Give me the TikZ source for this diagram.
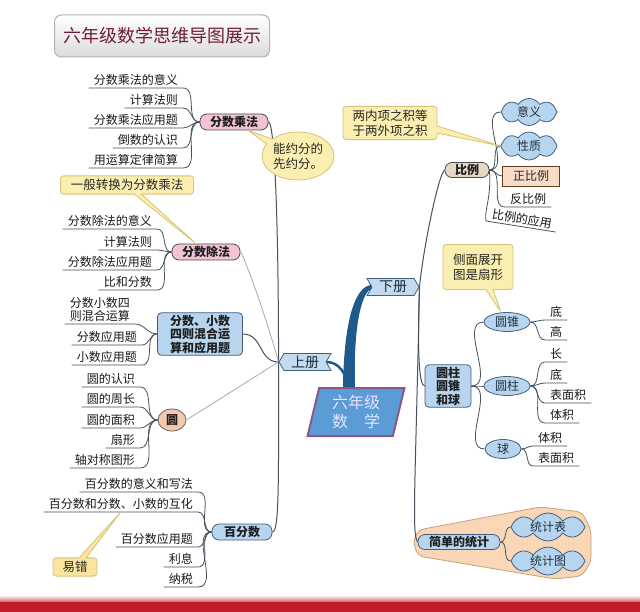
\documentclass[tikz,border=0pt]{standalone}
\usepackage{fontspec}
\setmainfont{Noto Sans CJK SC}
\usetikzlibrary{positioning,shapes.geometric,shapes.symbols,shapes.callouts}

\definecolor{lineg}{HTML}{46515C}
\definecolor{lightg}{HTML}{A3ACB4}
\definecolor{pinkf}{HTML}{F3C3D5}
\definecolor{bluef}{HTML}{B7D5EF}
\definecolor{navy}{HTML}{44607C}
\definecolor{peachf}{HTML}{F5C8AE}
\definecolor{beigef}{HTML}{E6D8C6}
\definecolor{notef}{HTML}{FAEFB0}
\definecolor{noted}{HTML}{D6C27A}
\definecolor{stemc}{HTML}{1E5A8C}
\definecolor{barred}{HTML}{C41B2B}
\definecolor{titlec}{HTML}{6E1F33}
\definecolor{ctrf}{HTML}{5B9BD6}
\definecolor{ctrd}{HTML}{8A5A86}
\definecolor{wrapf}{HTML}{F8D6B6}
\definecolor{wrapd}{HTML}{C9A27E}
\definecolor{zhengf}{HTML}{F9DCC8}

\begin{document}
\begin{tikzpicture}[x=1pt,y=1pt,
  lf/.style={font=\fontsize{12}{13.5}\selectfont, text=black!90, inner xsep=5pt, inner ysep=2pt},
  lfl/.style={lf,anchor=south east},
  lfr/.style={lf,anchor=south west},
  twig/.style={draw=lineg, line width=0.8pt},
  limb/.style={draw=lineg, line width=1pt},
  faint/.style={draw=lightg, line width=0.8pt},
  mm/.style={font=\fontsize{12}{13.5}\selectfont\bfseries, text=black!88},
  pill/.style={mm, rounded corners=7pt, draw=black!70, line width=0.8pt, inner sep=1pt, minimum height=16pt},
  pinkpill/.style={pill, fill=pinkf},
  bluepill/.style={pill, fill=bluef, draw=navy},
  boxnode/.style={mm, fill=bluef, draw=navy, rounded corners=4pt, align=center, line width=0.8pt, inner sep=2pt},
  oval/.style={ellipse, fill=bluef, draw=navy, line width=0.8pt, font=\fontsize{12}{14}\selectfont, text=navy!50!black, inner sep=0pt, minimum height=19pt},
  puff/.style={cloud, cloud puffs=8, cloud puff arc=115, cloud ignores aspect, fill=bluef, draw=navy, line width=0.8pt, font=\fontsize{12}{14}\selectfont, text=navy!50!black, inner sep=0pt},
  flag/.style={signal, signal pointer angle=120, fill=bluef!85!white, draw=navy, line width=0.8pt, font=\fontsize{14}{16}\selectfont, text=navy!45!black, minimum width=52pt, minimum height=17pt, inner sep=1pt},
  note/.style={rectangle callout, fill=notef, draw=noted, line width=0.8pt, rounded corners=3pt, font=\fontsize{12.5}{15}\selectfont, align=center, text=black!85},
  titlebox/.style={draw=black!30, line width=1pt, rounded corners=7pt, top color=white, bottom color=red!4!black!14, minimum width=215pt, minimum height=42pt, font=\fontsize{18}{21}\selectfont, text=titlec}]
\useasboundingbox (0,0) rectangle (640,-612);
\fill[white] (0,0) rectangle (640,-612);
% title and bottom band
\node (ttl) [titlebox] at (162,-36) {六年级数学思维导图展示};
\shade[top color=white, bottom color=barred!70] (0,-595) rectangle (640,-602);
\fill[barred] (0,-602) rectangle (640,-612);

% centre and the two books
\node (ctr) [trapezium, trapezium left angle=78, trapezium right angle=102, trapezium stretches=true, minimum width=97pt, minimum height=48pt, fill=ctrf, draw=ctrd, line width=2pt, text=blue!10, font=\fontsize{16}{19}\selectfont, align=center] at (356,-412) {六年级\\数\quad 学};
\node (xia) [flag, signal to=east, signal from=west] at (393,-287) {下册};
\node (shang) [flag, signal to=west, signal from=east] at (305,-362) {上册};
\fill[stemc] ([xshift=-13]ctr.north) .. controls +(1,68) and +(-16,-1) .. ([yshift=2]xia.west) -- ([yshift=-2]xia.west) .. controls +(-8,-2) and +(-2,68) .. ([xshift=-1]ctr.north) -- cycle;
\draw[stemc, line width=2.5pt] (shang.east) to[out=0,in=90] ([xshift=-9]ctr.north);

% 上册
\node (mul) [pinkpill, minimum width=68pt] at (234,-122) {分数乘法};
\node (div) [pinkpill, minimum width=68pt] at (206,-252) {分数除法};
\node (mix) [boxnode, minimum width=85pt, minimum height=42pt] at (200,-334) {分数、小数\\四则混合运\\算和应用题};
\node (yuan) [mm, ellipse, fill=peachf, draw=black!60, line width=0.8pt, inner sep=0pt, minimum width=28pt, minimum height=22pt] at (172,-420) {圆};
\node (pct) [bluepill, minimum width=60pt] at (242,-532) {百分数};
\draw[limb] (mul.east) .. controls +(7,0) and +(0,120) .. (shang.west) .. controls +(0,-120) and +(7,0) .. (pct.east);
\draw[faint] (shang.west) .. controls +(-8,30) and +(6,-8) .. (div.east);
\draw[limb] (shang.west) .. controls +(-20,0) and +(20,0) .. (mix.east);
\draw[faint] (shang.west) -- (yuan.east);

\node (m1) [lfl] at (183,-88) {分数乘法的意义};
\node (m2) [lfl] at (183,-108) {计算法则};
\node (m3) [lfl] at (183,-128) {分数乘法应用题};
\node (m4) [lfl] at (183,-148) {倒数的认识};
\node (m5) [lfl] at (183,-168) {用运算定律简算};
\draw[twig] (mul.west) to[out=180,in=0] (m1.south east) -- (m1.south west);
\draw[twig] (mul.west) to[out=180,in=0] (m2.south east) -- (m2.south west);
\draw[twig] (mul.west) to[out=180,in=0] (m3.south east) -- (m3.south west);
\draw[twig] (mul.west) to[out=180,in=0] (m4.south east) -- (m4.south west);
\draw[twig] (mul.west) to[out=180,in=0] (m5.south east) -- (m5.south west);

\node (d1) [lfl] at (157,-229) {分数除法的意义};
\node (d2) [lfl] at (157,-250) {计算法则};
\node (d3) [lfl] at (157,-270) {分数除法应用题};
\node (d4) [lfl] at (157,-290) {比和分数};
\draw[twig] (div.west) to[out=180,in=0] (d1.south east) -- (d1.south west);
\draw[twig] (div.west) to[out=180,in=0] (d2.south east) -- (d2.south west);
\draw[twig] (div.west) to[out=180,in=0] (d3.south east) -- (d3.south west);
\draw[twig] (div.west) to[out=180,in=0] (d4.south east) -- (d4.south west);

\node (x1) [lfl, align=center] at (135,-324) {分数小数四\\则混合运算};
\node (x2) [lfl] at (142,-345) {分数应用题};
\node (x3) [lfl] at (142,-365) {小数应用题};
\draw[twig] (mix.west) to[out=180,in=0] (x1.south east) -- (x1.south west);
\draw[twig] (mix.west) to[out=180,in=0] (x2.south east) -- (x2.south west);
\draw[twig] (mix.west) to[out=180,in=0] (x3.south east) -- (x3.south west);

\node (y1) [lfl] at (140,-387) {圆的认识};
\node (y2) [lfl] at (140,-407) {圆的周长};
\node (y3) [lfl] at (140,-428) {圆的面积};
\node (y4) [lfl] at (140,-448) {扇形};
\node (y5) [lfl] at (140,-468) {轴对称图形};
\draw[twig] (yuan.west) to[out=180,in=0] (y1.south east) -- (y1.south west);
\draw[twig] (yuan.west) to[out=180,in=0] (y2.south east) -- (y2.south west);
\draw[twig] (yuan.west) to[out=180,in=0] (y3.south east) -- (y3.south west);
\draw[twig] (yuan.west) to[out=180,in=0] (y4.south east) -- (y4.south west);
\draw[twig] (yuan.west) to[out=180,in=0] (y5.south east) -- (y5.south west);

\node (p1) [lfl] at (198,-492) {百分数的意义和写法};
\node (p2) [lfl] at (198,-512) {百分数和分数、小数的互化};
\node (p3) [lfl] at (198,-547) {百分数应用题};
\node (p4) [lfl] at (198,-567) {利息};
\node (p5) [lfl] at (198,-587) {纳税};
\draw[twig] (pct.west) to[out=180,in=0] (p1.south east) -- (p1.south west);
\draw[twig] (pct.west) to[out=180,in=0] (p2.south east) -- (p2.south west);
\draw[twig] (pct.west) to[out=180,in=0] (p3.south east) -- (p3.south west);
\draw[twig] (pct.west) to[out=180,in=0] (p4.south east) -- (p4.south west);
\draw[twig] (pct.west) to[out=180,in=0] (p5.south east) -- (p5.south west);

% 下册
\node (bili) [pill, fill=beigef, minimum width=44pt, minimum height=15pt] at (467,-170) {比例};
\node (yz3) [boxnode, minimum width=46pt, minimum height=40pt] at (448,-386) {圆柱\\圆锥\\和球};
\fill[wrapf, draw=wrapd, line width=0.8pt, rounded corners=6pt] (413,-542) -- (418,-530) -- (540,-507) -- (582,-512) -- (591,-530) -- (591,-562) -- (582,-576) -- (555,-579) -- (418,-556) -- cycle;
\node (tongji) [bluepill, minimum width=82pt, minimum height=15pt] at (459,-542) {简单的统计};
\draw[limb] (xia.east) .. controls +(4,40) and +(-6,-4) .. (bili.west);
\draw[limb] (xia.east) .. controls +(-2,-60) and +(-6,0) .. (yz3.west);
\draw[limb] (xia.east) .. controls +(-4,-200) and +(-6,8) .. (tongji.west);

\node (yiyi) [puff, minimum width=56pt, minimum height=27pt] at (529,-112) {意义};
\node (xingzhi) [puff, minimum width=56pt, minimum height=28pt] at (529,-146) {性质};
\node (zheng) [draw=black!50!brown, fill=zhengf, line width=0.8pt, font=\fontsize{12}{14}\selectfont, text=black!85, minimum width=57pt, minimum height=20pt] at (531,-176) {正比例};
\node (fan) [lfr] at (505,-207) {反比例};
\node (yy) [lfr, rotate=-9] at (486,-221) {比例的应用};
\draw[twig] (bili.east) to[out=0,in=180] (yiyi.west);
\draw[twig] (bili.east) to[out=0,in=180] (xingzhi.west);
\draw[twig] (bili.east) to[out=0,in=180] (zheng.west);
\draw[twig] (bili.east) to[out=0,in=180] (fan.south west) -- (fan.south east);
\draw[twig] (bili.east) .. controls +(2,-30) and +(-2,12) .. (yy.south west) -- (yy.south east);

\node (yuanzhui) [oval, minimum width=46pt] at (507,-322) {圆锥};
\node (yuanzhu) [oval, minimum width=46pt] at (507,-386) {圆柱};
\node (qiu) [oval, minimum width=36pt] at (503,-449) {球};
\draw[twig] (yz3.east) to[out=0,in=180] (yuanzhui.west);
\draw[twig] (yz3.east) to[out=0,in=180] (yuanzhu.west);
\draw[twig] (yz3.east) to[out=0,in=180] (qiu.west);

\node (z1) [lfr] at (545,-320) {底};
\node (z2) [lfr] at (545,-340) {高};
\node (c1) [lfr] at (545,-362) {长};
\node (c2) [lfr] at (545,-383) {底};
\node (c3) [lfr] at (545,-403) {表面积};
\node (c4) [lfr] at (545,-423) {体积};
\node (q1) [lfr] at (533,-446) {体积};
\node (q2) [lfr] at (533,-466) {表面积};
\draw[twig] (yuanzhui.east) to[out=0,in=180] (z1.south west) -- (z1.south east);
\draw[twig] (yuanzhui.east) to[out=0,in=180] (z2.south west) -- (z2.south east);
\draw[twig] (yuanzhu.east) to[out=0,in=180] (c1.south west) -- (c1.south east);
\draw[twig] (yuanzhu.east) to[out=0,in=180] (c2.south west) -- (c2.south east);
\draw[twig] (yuanzhu.east) to[out=0,in=180] (c3.south west) -- (c3.south east);
\draw[twig] (yuanzhu.east) to[out=0,in=180] (c4.south west) -- (c4.south east);
\draw[twig] (qiu.east) to[out=0,in=180] (q1.south west) -- (q1.south east);
\draw[twig] (qiu.east) to[out=0,in=180] (q2.south west) -- (q2.south east);

\node (biao) [puff, minimum width=74pt, minimum height=28pt] at (548,-527) {统计表};
\node (tu) [puff, minimum width=74pt, minimum height=28pt] at (548,-561) {统计图};
\draw[twig] (tongji.east) to[out=0,in=180] (biao.west);
\draw[twig] (tongji.east) to[out=0,in=180] (tu.west);

% notes
\node (tip1) [note, minimum width=133pt, minimum height=17pt, callout absolute pointer={([xshift=-10]div.north)}] at (127,-185) {一般转换为分数乘法};
\node (tip2) [note, ellipse callout, rounded corners=0pt, minimum width=72pt, minimum height=48pt, inner sep=0pt, callout absolute pointer={([xshift=14]mul.south)}] at (298,-156) {能约分的\\先约分。};
\node (tip3) [note, fill=notef!90!orange, minimum width=44pt, minimum height=18pt, callout absolute pointer={(p2.south)}] at (75,-567) {易错};
\node (tip4) [note, minimum width=94pt, minimum height=33pt, callout absolute pointer={(xingzhi.west)}] at (390,-123) {两内项之积等\\于两外项之积};
\node (tip5) [note, minimum width=70pt, minimum height=45pt, callout absolute pointer={([xshift=-6]yuanzhui.north)}] at (478,-267) {侧面展开\\图是扇形};
\end{tikzpicture}
\end{document}
